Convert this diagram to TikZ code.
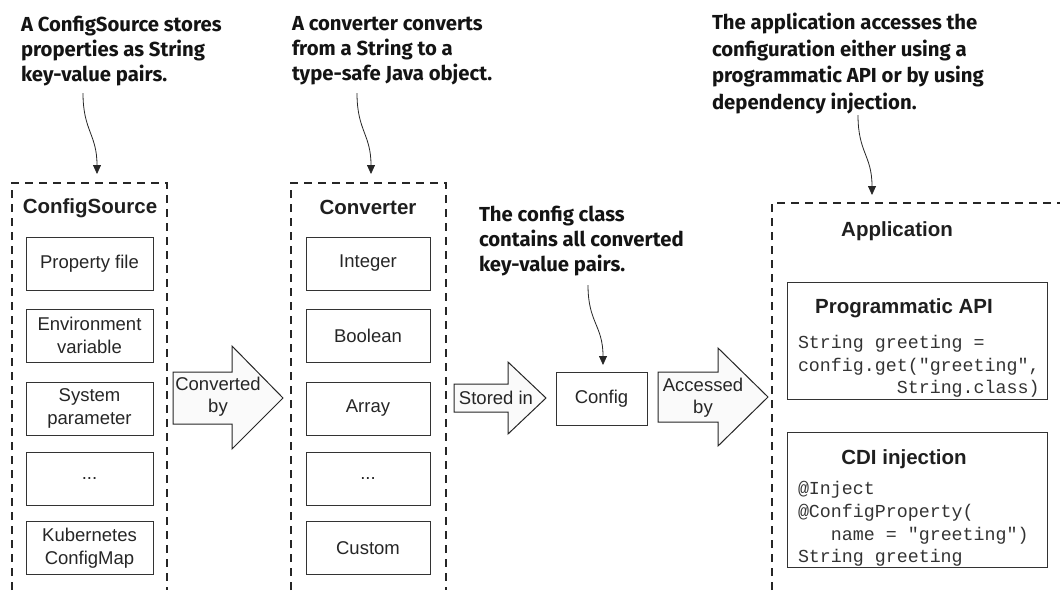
\documentclass[tikz,border=0pt]{standalone}
\usepackage{fontspec}
\setmainfont{Liberation Sans}
\newfontfamily\codefont{Liberation Mono}
\newfontfamily\notefont{Fira Sans}
\usetikzlibrary{arrows.meta,calc}

\begin{document}
\begin{tikzpicture}[x=1pt,y=-1pt,
  every node/.style={inner sep=0pt, outer sep=0pt},
  itembox/.style={draw=black!80, line width=1pt, fill=white, minimum width=127pt,
    minimum height=53pt, align=center, font=\fontsize{18.5}{23}\selectfont, text=black!85},
  panel/.style={draw=black!80, line width=1pt, anchor=north west, minimum width=260pt},
  group/.style={draw=black!85, line width=1.1pt, dash pattern=on 8pt off 6pt},
  groupbox/.style={anchor=north west},
  heading/.style={font=\fontsize{20.5}{24}\selectfont\bfseries, text=black!88, anchor=base},
  note/.style={font=\notefont\bfseries\fontsize{20.3}{25}\selectfont, align=left,
    anchor=north west, text=black!92},
  notearrow/.style={draw=black!85, line width=0.8pt, -{Triangle[length=9pt,width=8pt]}},
  blockarrow/.style={draw=black!85, line width=1pt, fill=black!2, line join=miter},
  flowlabel/.style={align=center, font=\fontsize{18.5}{22}\selectfont, text=black!85},
  code/.style={font=\codefont\fontsize{18.3}{22.7}\selectfont, align=left, anchor=west, text=black!80},
]
\useasboundingbox (0,0) rectangle (1060,590);

% ---------- dashed groups (open at the bottom) ----------
\node[groupbox, minimum width=155pt, minimum height=407pt] (srcgroup) at (12,183) {};
\node[groupbox, minimum width=155pt, minimum height=407pt] (convgroup) at (291,183) {};
\node[groupbox, minimum width=288pt, minimum height=387pt] (appgroup) at (772,203) {};
\draw[group] (srcgroup.south west) -- (srcgroup.north west) -- (srcgroup.north east) -- (srcgroup.south east);
\draw[group] (convgroup.south west) -- (convgroup.north west) -- (convgroup.north east) -- (convgroup.south east);
\draw[group] (appgroup.south west) -- (appgroup.north west) -- (appgroup.north east);

% ---------- ConfigSource column ----------
\node[heading] (srctitle) at (90,213.5) {ConfigSource};
\node[itembox] (ps1) at (89.5,263.5) {Property file};
\node[itembox] (ps2) at (89.5,335.5) {Environment\\variable};
\node[itembox] (ps3) at (89.5,408.5) {System\\parameter};
\node[itembox] (ps4) at (89.5,478.5) {...};
\node[itembox] (ps5) at (89.5,548) {Kubernetes\\ConfigMap};

% ---------- Converter column ----------
\node[heading] (convtitle) at (368,214.5) {Converter};
\node[itembox, minimum width=124pt] (cv1) at (368,263.5) {Integer};
\node[itembox, minimum width=124pt] (cv2) at (368,336) {Boolean};
\node[itembox, minimum width=124pt] (cv3) at (368,408.5) {Array};
\node[itembox, minimum width=124pt] (cv4) at (368,479) {...};
\node[itembox, minimum width=124pt] (cv5) at (368,548) {Custom};

% ---------- Config ----------
\node[itembox, minimum width=91pt] (config) at (601.5,398.5) {Config};

% ---------- flow arrows ----------
\draw[blockarrow] (173,372) -- (232,372) -- (232,346) -- (283,398) -- (232,449) -- (232,424) -- (173,424) -- cycle;
\node[flowlabel] (lblconv) at (218,397) {Converted\\by};
\draw[blockarrow] (454,384) -- (508,384) -- (508,362) -- (546,398) -- (508,434) -- (508,412) -- (454,412) -- cycle;
\node[flowlabel] (lblstore) at (496,398) {Stored in};
\draw[blockarrow] (658,372) -- (718,372) -- (718,348) -- (768,397) -- (718,446) -- (718,422) -- (658,422) -- cycle;
\node[flowlabel] (lblacc) at (703,398) {Accessed\\by};

% ---------- Application ----------
\node[heading] (apptitle) at (897,236) {Application};
\node[panel, minimum height=117pt] (apibox) at (787,282) {};
\node[heading] (apititle) at (904,313) {Programmatic API};
\node[code] (apicode) at (798,366.5) {String greeting =\\config.get("greeting",\\\ \ \ \ \ \ \ \ \ String.class)};
\node[panel, minimum height=135pt] (cdibox) at (787,432) {};
\node[heading] (cdititle) at (904,464) {CDI injection};
\node[code] (cdicode) at (798,524) {@Inject\\@ConfigProperty(\\\ \ \ name = "greeting")\\String greeting};

% ---------- callouts ----------
\node[note] (note1) at (21,16.5) {A ConfigSource stores\\properties as String\\key-value pairs.};
\node[note] (note2) at (292,16.5) {A converter converts\\from a String to a\\type-safe Java object.};
\node[note] (note3) at (479,206.5) {The config class\\contains all converted\\key-value pairs.};
\node[note, font=\notefont\bfseries\fontsize{20.3}{26.5}\selectfont] (note4) at (712,13.5)
  {The application accesses the\\configuration either using a\\programmatic API or by using\\dependency injection.};

\coordinate (n1tail) at (83,93);
\coordinate (n2tail) at (357,93);
\coordinate (n3tail) at (588,285);
\coordinate (n4tail) at (858,115);
\draw[notearrow] (n1tail) .. controls +(0,38) and +(0,-40) .. ([shift={(85,-9)}]srcgroup.north west);
\draw[notearrow] (n2tail) .. controls +(0,38) and +(0,-40) .. ([shift={(80,-9)}]convgroup.north west);
\draw[notearrow] (n3tail) .. controls +(0,38) and +(0,-40) .. ([shift={(1.5,-7)}]config.north);
\draw[notearrow] (n4tail) .. controls +(0,38) and +(0,-40) .. ([shift={(100,-8)}]appgroup.north west);
\end{tikzpicture}
\end{document}
